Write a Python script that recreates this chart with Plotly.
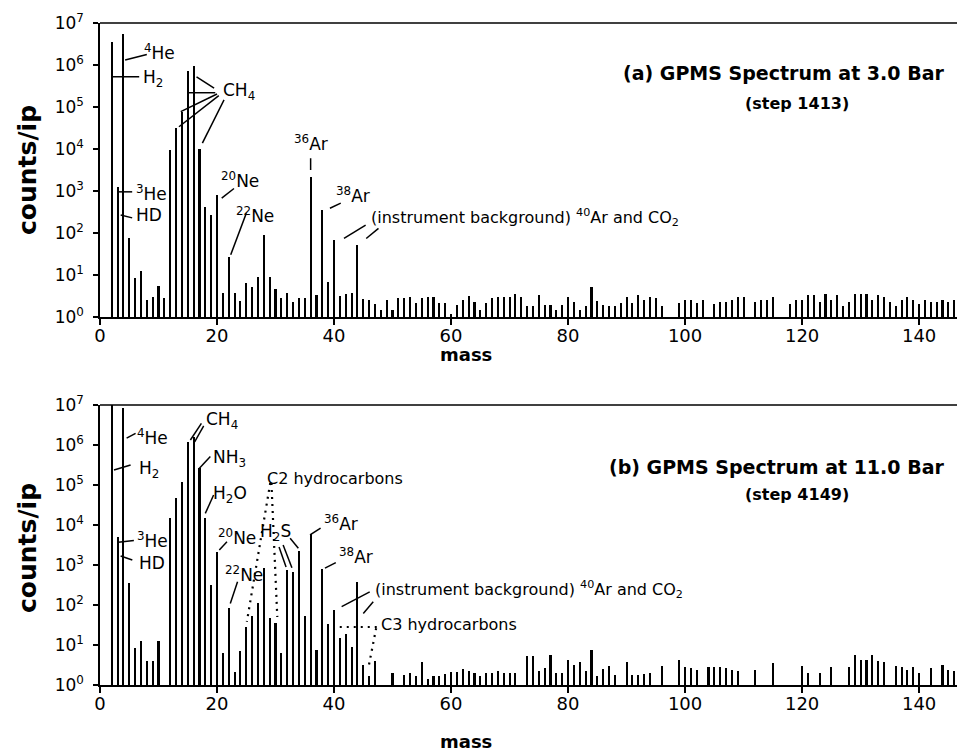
import plotly.graph_objects as go

# ---------------- data ----------------
# (a) 3.0 bar, step 1413
mass_a_peaks = list(range(2, 51))
counts_a_peaks = [3.6e6, 1.26e3, 5.6e6, 77, 8.7, 12.4, 2.5, 3.0, 5.6, 2.8,
                  9.5e3, 3.2e4, 7.7e4, 7.2e5, 9.5e5, 1.0e4, 420, 270, 800, 3.8,
                  27, 3.8, 2.4, 6.6, 5.1, 9.1, 90, 9.1, 4.6, 2.9,
                  3.7, 2.3, 2.8, 2.8, 2200, 3.3, 350, 6.9, 68, 3.2,
                  3.6, 3.7, 52, 2.7, 2.5, 2.0, 1.5, 2.5, 1.5]
mass_a_bg = list(range(51, 148))
counts_a_bg = [2.9, 2.9, 3.0, 2.1, 2.8, 3.0, 3.0, 2.1, 2.1, 1.2,
               1.9, 2.6, 3.2, 2.3, 1.5, 2.1, 2.8, 3.0, 3.0, 3.0,
               3.6, 3.0, 1.8, 1.8, 3.3, 1.9, 1.9, 1.5, 1.9, 3.0,
               2.3, 1.5, 1.8, 5.1, 2.4, 1.9, 1.8, 1.8, 2.1, 3.0,
               2.1, 3.3, 2.5, 3.0, 2.9, 1.8, None, None, 2.2, 2.6,
               2.6, 2.2, 2.6, None, 2.0, 2.3, 2.3, 2.6, 3.0, 3.0,
               None, 2.3, 2.6, 2.6, 3.0, None, None, 2.0, 2.6, 2.6,
               3.3, 3.3, 2.3, 3.6, 2.6, 3.3, 1.8, 2.3, 3.6, 3.6,
               3.6, 2.6, 3.3, 3.0, 2.3, 1.8, 2.6, 3.0, 2.6, 2.0,
               2.6, 2.3, 2.3, 2.6, 2.3, 2.6, 1.8]

# (b) 11.0 bar, step 4149
mass_b_peaks = list(range(2, 51))
counts_b_peaks = [3e7, 5.1e3, 8.3e6, 350, 8.3, 12.8, 4.0, 4.0, 12.5, None,
                  1.5e4, 4.8e4, 1.2e5, 1.2e6, 1.6e6, 2.7e5, 1.5e4, 316, 2.1e3, 6.5,
                  83, 2.1, 7, 29, 54, 110, 830, 48, 36, 6.3,
                  750, 680, 2300, 53, 6000, 7.5, 780, 33, 75, 15,
                  19, 8.7, 380, 3.2, 1.7, 4.0, None, None, 2.0]
mass_b_bg = list(range(51, 148))
counts_b_bg = [None, 1.8, 2.0, 1.7, 3.8, 1.4, 1.7, 1.7, 1.9, 2.1,
               2.1, 2.5, 2.3, 2.0, 1.7, 2.0, 2.0, 2.2, 2.0, 2.0,
               2.0, None, 5.3, 5.3, 2.3, 2.6, 5.5, 2.0, 2.0, 4.3,
               3.1, 3.8, 2.3, 7.5, 1.7, 2.5, 3.0, 1.8, None, 3.8,
               1.8, 1.8, 1.9, 2.0, None, 3.0, None, None, 4.2, 2.8,
               2.7, 2.4, None, 2.9, 2.9, 2.8, 2.6, 2.4, 2.2, None,
               None, 2.4, None, None, 3.5, None, None, None, None, 3.0,
               2.0, None, 2.0, None, 2.9, None, None, 2.9, 5.6, 4.2,
               4.2, 5.6, 4.1, 3.8, None, 3.0, 2.9, 2.4, 2.9, 2.0,
               None, 2.7, None, 3.2, 2.4, 2.2, 2.2]

mass_a = mass_a_peaks + mass_a_bg
counts_a = counts_a_peaks + counts_a_bg
mass_b = mass_b_peaks + mass_b_bg
counts_b = counts_b_peaks + counts_b_bg

x_ticks = [0, 20, 40, 60, 80, 100, 120, 140]
y_exponents = [0, 1, 2, 3, 4, 5, 6, 7]
y_tickvals = [10 ** e for e in y_exponents]
y_ticktext = ["10<sup>%d</sup>" % e for e in y_exponents]

FONT = "DejaVu Sans"

fig = go.Figure()
fig.add_trace(go.Bar(x=mass_a, y=counts_a, width=0.36, marker=dict(color="black", line=dict(width=0)),
                     xaxis="x", yaxis="y", showlegend=False))
fig.add_trace(go.Bar(x=mass_b, y=counts_b, width=0.36, marker=dict(color="black", line=dict(width=0)),
                     xaxis="x2", yaxis="y2", showlegend=False))

xax = dict(range=[0, 147.5], tickvals=x_ticks, ticks="outside", ticklen=6, tickwidth=1.5,
           tickcolor="black", showline=True, linecolor="black", linewidth=1.5,
           showgrid=False, zeroline=False, ticklabelstandoff=-4,
           tickfont=dict(family=FONT, size=18, color="black"))
yax = dict(type="log", range=[0, 7], tickvals=y_tickvals, ticktext=y_ticktext, ticks="outside",
           ticklen=5, tickwidth=1.5, tickcolor="black", showline=True, linecolor="black",
           linewidth=1.5, showgrid=False, zeroline=False, ticklabelstandoff=6,
           tickfont=dict(family=FONT, size=17, color="black"))

# page has an 8px body margin, so the figure is drawn 8px in from the top-left
fig.update_layout(
    width=957, height=745,
    margin=dict(l=92, r=2, t=15, b=68),
    paper_bgcolor="white", plot_bgcolor="white",
    bargap=0,
    xaxis=dict(xax, domain=[0, 1], anchor="y"),
    yaxis=dict(yax, domain=[0.5559, 1], anchor="x"),
    xaxis2=dict(xax, domain=[0, 1], anchor="y2"),
    yaxis2=dict(yax, domain=[0, 0.423], anchor="x2"),
)

shapes = []
# top frame lines
for xr, yr in (("x domain", "y domain"), ("x2 domain", "y2 domain")):
    shapes.append(dict(type="line", xref=xr, yref=yr, x0=0, x1=1, y0=1, y1=1,
                       line=dict(color="black", width=1.5)))

def seg(ax, x0, y0, x1, y1, dash=None):
    """leader line; y given as log10(count)"""
    xr, yr = ("x", "y") if ax == 1 else ("x2", "y2")
    ln = dict(color="black", width=1.5)
    if dash:
        ln = dict(color="black", width=2.2, dash=dash)
    shapes.append(dict(type="line", xref=xr, yref=yr, x0=x0, y0=10 ** y0, x1=x1, y1=10 ** y1, line=ln))

annotations = []

def label(ax, x, y, text, size=17, anchor="left"):
    xr, yr = ("x", "y") if ax == 1 else ("x2", "y2")
    annotations.append(dict(xref=xr, yref=yr, x=x, y=y, text=text, showarrow=False,
                            xanchor=anchor, yanchor="middle",
                            font=dict(family=FONT, size=size, color="black")))

# ---- panel (a) labels (y in log10 units) ----
label(1, 7.2, 6.31, "<sup>4</sup>He");   seg(1, 4.3, 6.12, 8.0, 6.25)
label(1, 7.0, 5.67, "H<sub>2</sub>");    seg(1, 2.1, 5.72, 6.7, 5.72)
label(1, 20.7, 5.38, "CH<sub>4</sub>")
seg(1, 16.5, 5.72, 19.5, 5.45)
seg(1, 15.2, 5.34, 19.7, 5.34)
seg(1, 13.8, 4.89, 20.0, 5.31)
seg(1, 13.5, 4.53, 20.3, 5.27)
seg(1, 17.5, 4.14, 21.2, 5.17)
label(1, 5.8, 2.95, "<sup>3</sup>He");   seg(1, 2.96, 2.98, 5.5, 2.98)
label(1, 5.8, 2.43, "HD");               seg(1, 3.54, 2.43, 5.5, 2.36)
label(1, 20.3, 3.26, "<sup>20</sup>Ne"); seg(1, 20.8, 2.83, 22.9, 3.06)
label(1, 22.9, 2.43, "<sup>22</sup>Ne"); seg(1, 22.34, 1.48, 25.0, 2.47)
label(1, 32.8, 4.14, "<sup>36</sup>Ar"); seg(1, 36.0, 3.78, 36.0, 3.5)
label(1, 40.0, 2.9, "<sup>38</sup>Ar");  seg(1, 39.3, 2.59, 41.15, 2.71)
label(1, 45.9, 2.36, "(instrument background) <sup>40</sup>Ar and CO<sub>2</sub>", size=16)
seg(1, 41.7, 1.87, 45.4, 2.19)
seg(1, 45.5, 1.87, 47.6, 2.11)

# ---- panel (b) labels ----
label(2, 5.9, 6.2, "<sup>4</sup>He");    seg(2, 4.55, 6.17, 6.08, 6.29)
label(2, 6.4, 5.375, "H<sub>2</sub>");   seg(2, 2.39, 5.375, 5.23, 5.5)
label(2, 5.9, 3.625, "<sup>3</sup>He");  seg(2, 3.13, 3.57, 5.79, 3.61)
label(2, 6.4, 3.05, "HD");               seg(2, 3.53, 3.225, 5.52, 3.125)
label(2, 17.7, 6.6, "CH<sub>4</sub>")
seg(2, 15.45, 6.125, 17.33, 6.54)
seg(2, 16.18, 6.08, 17.72, 6.48)
label(2, 18.9, 5.65, "NH<sub>3</sub>"); seg(2, 16.87, 5.4, 18.86, 5.71)
label(2, 18.9, 4.75, "H<sub>2</sub>O"); seg(2, 18.0, 4.29, 19.42, 4.75)
label(2, 19.9, 3.7, "<sup>20</sup>Ne"); seg(2, 20.39, 3.375, 21.7, 3.58)
label(2, 21.1, 2.775, "<sup>22</sup>Ne"); seg(2, 22.27, 2.04, 23.51, 2.58)
label(2, 28.2, 5.15, "C2 hydrocarbons", size=16)
seg(2, 29.1, 5.05, 25.1, 1.58, dash="2px,5px")
seg(2, 29.3, 5.05, 30.3, 1.7, dash="2px,5px")
label(2, 27.0, 3.8, "H<sub>2</sub>S")
seg(2, 30.6, 3.45, 31.8, 2.95)
seg(2, 31.3, 3.5, 32.8, 2.93)
seg(2, 32.5, 3.67, 33.9, 3.42)
label(2, 37.9, 4.05, "<sup>36</sup>Ar"); seg(2, 35.9, 3.75, 37.7, 3.92)
label(2, 40.5, 3.225, "<sup>38</sup>Ar"); seg(2, 38.45, 2.92, 40.3, 3.06)
label(2, 46.7, 2.375, "(instrument background) <sup>40</sup>Ar and CO<sub>2</sub>", size=16)
seg(2, 41.3, 1.96, 46.1, 2.33)
seg(2, 45.0, 1.79, 46.7, 2.08)
label(2, 47.6, 1.5, "C3 hydrocarbons", size=16)
seg(2, 47.3, 1.45, 40.3, 1.45, dash="2px,5px")
seg(2, 47.2, 1.42, 45.9, 0.45, dash="2px,5px")

# ---- titles and axis titles (paper coords) ----
def ptext(x, y, text, size, anchor="center", angle=0):
    annotations.append(dict(xref="paper", yref="paper", x=x, y=y, text=text, showarrow=False,
                            xanchor=anchor, yanchor="middle", textangle=angle,
                            font=dict(family=FONT, size=size, color="black")))

ptext(0.980, 0.9245, "<b>(a) GPMS Spectrum at 3.0 Bar</b>", 19, anchor="right")
ptext(0.8076, 0.879, "<b>(step 1413)</b>", 16)
ptext(0.980, 0.329, "<b>(b) GPMS Spectrum at 11.0 Bar</b>", 19, anchor="right")
ptext(0.8076, 0.2885, "<b>(step 4149)</b>", 16)
ptext(-0.0834, 0.778, "<b>counts/ip</b>", 25, angle=-90)
ptext(-0.0834, 0.207, "<b>counts/ip</b>", 25, angle=-90)
ptext(0.424, 0.4985, "<b>mass</b>", 18)
ptext(0.424, -0.085, "<b>mass</b>", 18)

fig.update_layout(shapes=shapes, annotations=annotations)
fig.write_html("out.html")
